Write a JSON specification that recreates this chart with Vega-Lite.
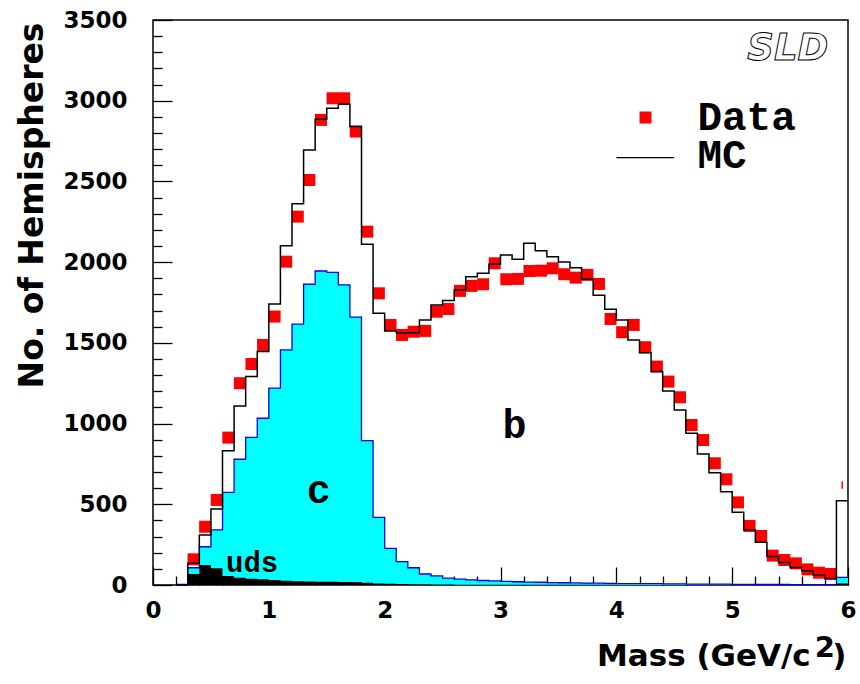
{
  "$schema": "https://vega.github.io/schema/vega-lite/v6.json",
  "width": 695,
  "height": 565,
  "autosize": {"type": "none"},
  "padding": {"left": 153, "top": 20, "right": 12, "bottom": 99},
  "background": "white",
  "config": {
    "view": {"stroke": "black", "strokeWidth": 1.5},
    "axis": {
      "domain": false,
      "grid": false,
      "tickColor": "black",
      "tickWidth": 1.3,
      "labelFont": "DejaVu Sans",
      "labelFontWeight": "bold",
      "labelFontSize": 23,
      "labelColor": "black",
      "labelFlush": false,
      "labelOverlap": false,
      "titleFont": "DejaVu Sans",
      "titleFontWeight": "bold",
      "titleColor": "black"
    }
  },
  "datasets": {
    "hist": [
      {"lo": 0.2, "mc": 0, "c": 3, "uds": 0},
      {"lo": 0.3, "mc": 134, "c": 107, "uds": 68},
      {"lo": 0.4, "mc": 310, "c": 237, "uds": 124},
      {"lo": 0.5, "mc": 471, "c": 341, "uds": 103},
      {"lo": 0.6, "mc": 832, "c": 574, "uds": 56},
      {"lo": 0.7, "mc": 1109, "c": 779, "uds": 45},
      {"lo": 0.8, "mc": 1291, "c": 915, "uds": 39},
      {"lo": 0.9, "mc": 1446, "c": 1033, "uds": 35},
      {"lo": 1.0, "mc": 1741, "c": 1219, "uds": 31},
      {"lo": 1.1, "mc": 2102, "c": 1456, "uds": 27},
      {"lo": 1.2, "mc": 2361, "c": 1616, "uds": 23},
      {"lo": 1.3, "mc": 2695, "c": 1863, "uds": 21},
      {"lo": 1.4, "mc": 2885, "c": 1945, "uds": 20},
      {"lo": 1.5, "mc": 2953, "c": 1937, "uds": 20},
      {"lo": 1.6, "mc": 2978, "c": 1859, "uds": 19},
      {"lo": 1.7, "mc": 2840, "c": 1659, "uds": 18},
      {"lo": 1.8, "mc": 2111, "c": 894, "uds": 14},
      {"lo": 1.9, "mc": 1683, "c": 419, "uds": 10},
      {"lo": 2.0, "mc": 1574, "c": 227, "uds": 7},
      {"lo": 2.1, "mc": 1563, "c": 145, "uds": 6},
      {"lo": 2.2, "mc": 1563, "c": 107, "uds": 5},
      {"lo": 2.3, "mc": 1642, "c": 68, "uds": 4},
      {"lo": 2.4, "mc": 1735, "c": 56, "uds": 3},
      {"lo": 2.5, "mc": 1762, "c": 42, "uds": 3},
      {"lo": 2.6, "mc": 1828, "c": 36, "uds": 2},
      {"lo": 2.7, "mc": 1910, "c": 32, "uds": 2},
      {"lo": 2.8, "mc": 1931, "c": 28, "uds": 2},
      {"lo": 2.9, "mc": 1987, "c": 25, "uds": 2},
      {"lo": 3.0, "mc": 2045, "c": 22, "uds": 1},
      {"lo": 3.1, "mc": 2018, "c": 20, "uds": 1},
      {"lo": 3.2, "mc": 2117, "c": 18, "uds": 1},
      {"lo": 3.3, "mc": 2071, "c": 17, "uds": 1},
      {"lo": 3.4, "mc": 2034, "c": 15, "uds": 1},
      {"lo": 3.5, "mc": 2001, "c": 14, "uds": 1},
      {"lo": 3.6, "mc": 1966, "c": 13, "uds": 1},
      {"lo": 3.7, "mc": 1894, "c": 12, "uds": 1},
      {"lo": 3.8, "mc": 1795, "c": 11, "uds": 1},
      {"lo": 3.9, "mc": 1708, "c": 10, "uds": 1},
      {"lo": 4.0, "mc": 1642, "c": 9, "uds": 0},
      {"lo": 4.1, "mc": 1518, "c": 9, "uds": 0},
      {"lo": 4.2, "mc": 1439, "c": 8, "uds": 0},
      {"lo": 4.3, "mc": 1322, "c": 8, "uds": 0},
      {"lo": 4.4, "mc": 1202, "c": 7, "uds": 0},
      {"lo": 4.5, "mc": 1084, "c": 7, "uds": 0},
      {"lo": 4.6, "mc": 940, "c": 6, "uds": 0},
      {"lo": 4.7, "mc": 812, "c": 6, "uds": 0},
      {"lo": 4.8, "mc": 696, "c": 5, "uds": 0},
      {"lo": 4.9, "mc": 578, "c": 5, "uds": 0},
      {"lo": 5.0, "mc": 450, "c": 4, "uds": 0},
      {"lo": 5.1, "mc": 341, "c": 4, "uds": 0},
      {"lo": 5.2, "mc": 265, "c": 3, "uds": 0},
      {"lo": 5.3, "mc": 176, "c": 3, "uds": 0},
      {"lo": 5.4, "mc": 140, "c": 3, "uds": 0},
      {"lo": 5.5, "mc": 108, "c": 2, "uds": 0},
      {"lo": 5.6, "mc": 89, "c": 2, "uds": 0},
      {"lo": 5.7, "mc": 62, "c": 2, "uds": 0},
      {"lo": 5.8, "mc": 41, "c": 2, "uds": 0},
      {"lo": 5.9, "mc": 522, "c": 47, "uds": 10},
      {"lo": 6.0, "mc": 522, "c": 47, "uds": 10}
    ],
    "pts": [
      {"m": 0.35, "n": 159}, {"m": 0.45, "n": 361}, {"m": 0.55, "n": 527},
      {"m": 0.65, "n": 913}, {"m": 0.75, "n": 1250}, {"m": 0.85, "n": 1369},
      {"m": 0.95, "n": 1487}, {"m": 1.05, "n": 1663}, {"m": 1.15, "n": 2003},
      {"m": 1.25, "n": 2282}, {"m": 1.35, "n": 2509}, {"m": 1.45, "n": 2881},
      {"m": 1.55, "n": 3015}, {"m": 1.65, "n": 3015}, {"m": 1.75, "n": 2809},
      {"m": 1.85, "n": 2189}, {"m": 1.95, "n": 1807}, {"m": 2.05, "n": 1611},
      {"m": 2.15, "n": 1549}, {"m": 2.25, "n": 1569}, {"m": 2.35, "n": 1574},
      {"m": 2.45, "n": 1693}, {"m": 2.55, "n": 1710}, {"m": 2.65, "n": 1822},
      {"m": 2.75, "n": 1853}, {"m": 2.85, "n": 1863}, {"m": 2.95, "n": 1993},
      {"m": 3.05, "n": 1894}, {"m": 3.15, "n": 1896}, {"m": 3.25, "n": 1945},
      {"m": 3.35, "n": 1947}, {"m": 3.45, "n": 1962}, {"m": 3.55, "n": 1925},
      {"m": 3.65, "n": 1904}, {"m": 3.75, "n": 1921}, {"m": 3.85, "n": 1865},
      {"m": 3.95, "n": 1648}, {"m": 4.05, "n": 1566}, {"m": 4.15, "n": 1611},
      {"m": 4.25, "n": 1473}, {"m": 4.35, "n": 1353}, {"m": 4.45, "n": 1260},
      {"m": 4.55, "n": 1163}, {"m": 4.65, "n": 991}, {"m": 4.75, "n": 898},
      {"m": 4.85, "n": 754}, {"m": 4.95, "n": 655}, {"m": 5.05, "n": 512},
      {"m": 5.15, "n": 366}, {"m": 5.25, "n": 304}, {"m": 5.35, "n": 182},
      {"m": 5.45, "n": 155}, {"m": 5.55, "n": 134}, {"m": 5.65, "n": 97},
      {"m": 5.75, "n": 76}, {"m": 5.85, "n": 68}
    ],
    "errtick": [{"m": 5.95, "lo": 596, "hi": 643}],
    "legsq": [{"m": 4.252, "n": 2896}],
    "legline": [{"m": 4.0, "m2": 4.5, "n": 2647}],
    "monoleft": [
      {"m": 4.70, "n": 2819, "t": "Data", "s": 41},
      {"m": 4.70, "n": 2583, "t": "MC", "s": 41},
      {"m": 0.63, "n": 82, "t": "uds", "s": 29}
    ],
    "monocenter": [
      {"m": 3.12, "n": 911, "t": "b", "s": 40},
      {"m": 1.43, "n": 510, "t": "c", "s": 40}
    ],
    "sup": [{"m": 5.80, "n": -446, "t": "2"}],
    "logo": [{"m": 5.83, "n": 3252, "t": "SLD"}]
  },
  "resolve": {"axis": {"x": "independent", "y": "independent"}},
  "layer": [
    {
      "data": {"name": "hist"},
      "mark": {"type": "area", "interpolate": "step-after", "color": "#00ffff"},
      "encoding": {
        "x": {
          "field": "lo", "type": "quantitative",
          "scale": {"domain": [0, 6], "nice": false, "zero": false},
          "axis": {
            "orient": "bottom",
            "values": [0, 1, 2, 3, 4, 5, 6],
            "format": "d",
            "tickSize": -18,
            "labelPadding": 32,
            "title": "Mass (GeV/c\u00a0\u00a0)",
            "titleFontSize": 31,
            "titleAlign": "right",
            "titleBaseline": "alphabetic",
            "titleAnchor": null,
            "titleX": 693,
            "titleY": 80
          }
        },
        "y": {
          "field": "c", "type": "quantitative",
          "scale": {"domain": [0, 3500], "nice": false},
          "axis": {
            "orient": "left",
            "values": [0, 500, 1000, 1500, 2000, 2500, 3000, 3500],
            "format": "d",
            "tickSize": -19,
            "labelPadding": 45,
            "title": "No. of Hemispheres",
            "titleFontSize": 33,
            "titleAngle": -90,
            "titleAlign": "right",
            "titleBaseline": "alphabetic",
            "titleAnchor": null,
            "titleX": -111,
            "titleY": 2
          }
        }
      }
    },
    {
      "data": {"name": "hist"},
      "mark": {"type": "line", "interpolate": "step-after", "color": "#0000ff", "strokeWidth": 1.3},
      "encoding": {
        "x": {
          "field": "lo", "type": "quantitative",
          "axis": {
            "orient": "bottom",
            "values": [0.2, 0.4, 0.6, 0.8, 1.2, 1.4, 1.6, 1.8, 2.2, 2.4, 2.6, 2.8, 3.2, 3.4, 3.6, 3.8, 4.2, 4.4, 4.6, 4.8, 5.2, 5.4, 5.6, 5.8],
            "tickSize": -9,
            "labels": false,
            "title": null
          }
        },
        "y": {
          "field": "c", "type": "quantitative",
          "axis": {
            "orient": "left",
            "values": [100, 200, 300, 400, 600, 700, 800, 900, 1100, 1200, 1300, 1400, 1600, 1700, 1800, 1900, 2100, 2200, 2300, 2400, 2600, 2700, 2800, 2900, 3100, 3200, 3300, 3400],
            "tickSize": -9,
            "labels": false,
            "title": null
          }
        }
      }
    },
    {
      "data": {"name": "hist"},
      "mark": {"type": "area", "interpolate": "step-after", "color": "black"},
      "encoding": {
        "x": {"field": "lo", "type": "quantitative", "axis": null},
        "y": {"field": "uds", "type": "quantitative", "axis": null}
      }
    },
    {
      "data": {"name": "pts"},
      "mark": {"type": "square", "color": "#ff0000", "opacity": 1, "size": 144},
      "encoding": {
        "x": {"field": "m", "type": "quantitative", "axis": null},
        "y": {"field": "n", "type": "quantitative", "axis": null}
      }
    },
    {
      "data": {"name": "errtick"},
      "mark": {"type": "rule", "color": "#ff0000", "strokeWidth": 1.5},
      "encoding": {
        "x": {"field": "m", "type": "quantitative", "axis": null},
        "y": {"field": "lo", "type": "quantitative", "axis": null},
        "y2": {"field": "hi"}
      }
    },
    {
      "data": {"name": "hist"},
      "mark": {"type": "line", "interpolate": "step-after", "color": "black", "strokeWidth": 1.5},
      "encoding": {
        "x": {"field": "lo", "type": "quantitative", "axis": null},
        "y": {"field": "mc", "type": "quantitative", "axis": null}
      }
    },
    {
      "data": {"name": "legsq"},
      "mark": {"type": "square", "color": "#ff0000", "opacity": 1, "size": 144},
      "encoding": {
        "x": {"field": "m", "type": "quantitative", "axis": null},
        "y": {"field": "n", "type": "quantitative", "axis": null}
      }
    },
    {
      "data": {"name": "legline"},
      "mark": {"type": "rule", "color": "black", "strokeWidth": 1.3},
      "encoding": {
        "x": {"field": "m", "type": "quantitative", "axis": null},
        "x2": {"field": "m2"},
        "y": {"field": "n", "type": "quantitative", "axis": null}
      }
    },
    {
      "data": {"name": "monoleft"},
      "mark": {"type": "text", "font": "Liberation Mono", "fontWeight": "bold", "align": "left", "baseline": "alphabetic", "color": "black"},
      "encoding": {
        "x": {"field": "m", "type": "quantitative", "axis": null},
        "y": {"field": "n", "type": "quantitative", "axis": null},
        "text": {"field": "t"},
        "size": {"field": "s", "type": "quantitative", "scale": null}
      }
    },
    {
      "data": {"name": "monocenter"},
      "mark": {"type": "text", "font": "Liberation Mono", "fontWeight": "bold", "align": "center", "baseline": "alphabetic", "color": "black"},
      "encoding": {
        "x": {"field": "m", "type": "quantitative", "axis": null},
        "y": {"field": "n", "type": "quantitative", "axis": null},
        "text": {"field": "t"},
        "size": {"field": "s", "type": "quantitative", "scale": null}
      }
    },
    {
      "data": {"name": "sup"},
      "mark": {"type": "text", "font": "DejaVu Sans", "fontWeight": "bold", "fontSize": 29, "align": "center", "baseline": "alphabetic", "color": "black"},
      "encoding": {
        "x": {"field": "m", "type": "quantitative", "axis": null},
        "y": {"field": "n", "type": "quantitative", "axis": null},
        "text": {"field": "t"}
      }
    },
    {
      "data": {"name": "logo"},
      "mark": {"type": "text", "font": "DejaVu Sans", "fontWeight": "bold", "fontStyle": "italic", "fontSize": 37, "align": "right", "baseline": "alphabetic", "fill": "white", "stroke": "black", "strokeWidth": 1},
      "encoding": {
        "x": {"field": "m", "type": "quantitative", "axis": null},
        "y": {"field": "n", "type": "quantitative", "axis": null},
        "text": {"field": "t"}
      }
    }
  ]
}
